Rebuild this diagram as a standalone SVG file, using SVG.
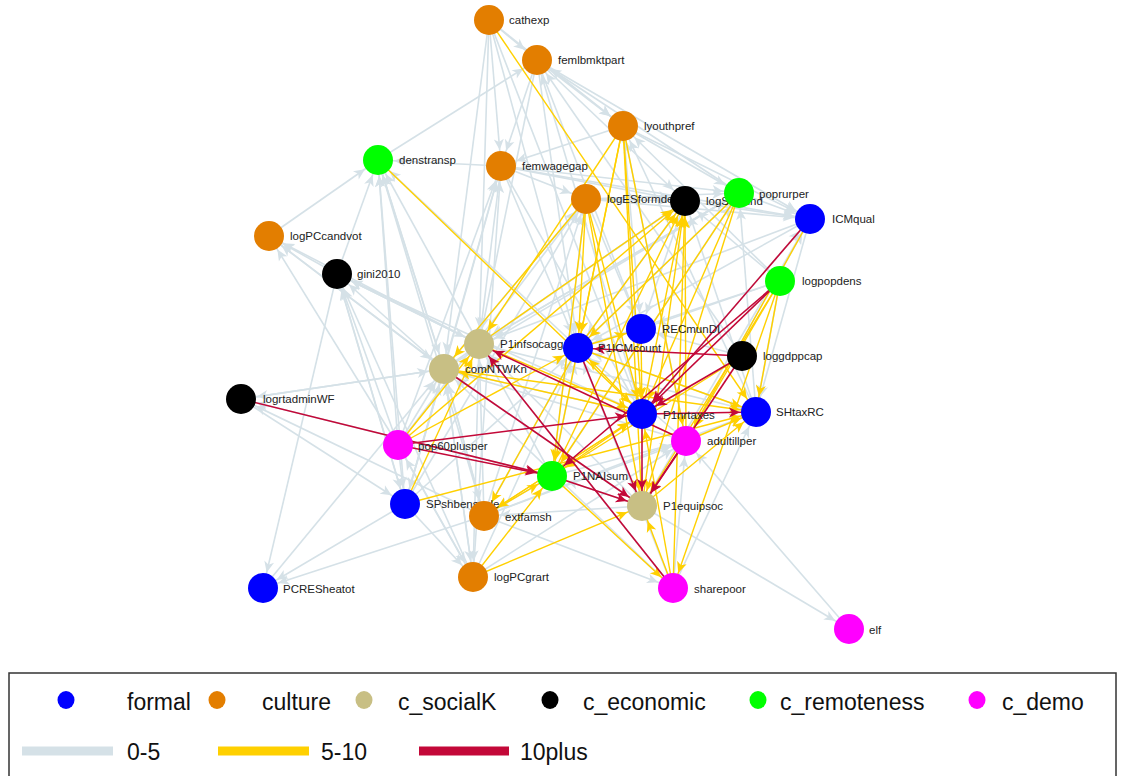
<svg xmlns="http://www.w3.org/2000/svg" width="1121" height="776" viewBox="0 0 1121 776">
<style>
.g{stroke:#d5e1e7;stroke-width:1.6;fill:none;marker-end:url(#ag)}
.y{stroke:#ffd000;stroke-width:1.4;fill:none;marker-end:url(#ay)}
.r{stroke:#c30838;stroke-width:1.6;fill:none;marker-end:url(#ar)}
.lb{font-family:"Liberation Sans",Arial,sans-serif;font-size:11.5px;fill:#222}
.lg{font-family:"Liberation Sans",Arial,sans-serif;font-size:23px;fill:#111}
.fo{fill:#0000ff}.cu{fill:#e37e00}.so{fill:#c8bf84}.ec{fill:#000000}.re{fill:#00ff00}.de{fill:#ff00ff}
</style>
<defs>
<marker id="ag" markerUnits="userSpaceOnUse" viewBox="-40 -10 50 20" markerWidth="50" markerHeight="20" refX="0" refY="0" orient="auto"><path d="M-16,0 L-27,-5 L-24,0 L-27,5 Z" fill="#d5e1e7"/></marker>
<marker id="ay" markerUnits="userSpaceOnUse" viewBox="-40 -10 50 20" markerWidth="50" markerHeight="20" refX="0" refY="0" orient="auto"><path d="M-16,0 L-27,-5 L-24,0 L-27,5 Z" fill="#ffd000"/></marker>
<marker id="ar" markerUnits="userSpaceOnUse" viewBox="-40 -10 50 20" markerWidth="50" markerHeight="20" refX="0" refY="0" orient="auto"><path d="M-16,0 L-27,-5 L-24,0 L-27,5 Z" fill="#c30838"/></marker>
</defs>
<rect width="1121" height="776" fill="#ffffff"/>
<g id="edges">
<g id="edges-0-5">
<line class="g" x1="489" y1="20" x2="537" y2="60"/>
<line class="g" x1="489" y1="20" x2="501" y2="166"/>
<line class="g" x1="489" y1="20" x2="479" y2="344"/>
<line class="g" x1="489" y1="20" x2="444" y2="369"/>
<line class="g" x1="489" y1="20" x2="578" y2="348"/>
<line class="g" x1="489" y1="20" x2="623" y2="126"/>
<line class="g" x1="537" y1="60" x2="623" y2="126"/>
<line class="g" x1="537" y1="60" x2="501" y2="166"/>
<line class="g" x1="537" y1="60" x2="479" y2="344"/>
<line class="g" x1="537" y1="60" x2="578" y2="348"/>
<line class="g" x1="537" y1="60" x2="641" y2="329"/>
<line class="g" x1="537" y1="60" x2="685" y2="201"/>
<line class="g" x1="537" y1="60" x2="810" y2="219"/>
<line class="g" x1="378" y1="160" x2="537" y2="60"/>
<line class="g" x1="642" y1="414" x2="537" y2="60"/>
<line class="g" x1="742" y1="356" x2="537" y2="60"/>
<line class="g" x1="739" y1="193" x2="537" y2="60"/>
<line class="g" x1="623" y1="126" x2="501" y2="166"/>
<line class="g" x1="623" y1="126" x2="739" y2="193"/>
<line class="g" x1="623" y1="126" x2="810" y2="219"/>
<line class="g" x1="756" y1="412" x2="623" y2="126"/>
<line class="g" x1="686" y1="441" x2="623" y2="126"/>
<line class="g" x1="780" y1="281" x2="623" y2="126"/>
<line class="g" x1="501" y1="166" x2="378" y2="160"/>
<line class="g" x1="501" y1="166" x2="685" y2="201"/>
<line class="g" x1="501" y1="166" x2="739" y2="193"/>
<line class="g" x1="501" y1="166" x2="810" y2="219"/>
<line class="g" x1="501" y1="166" x2="586" y2="199"/>
<line class="g" x1="444" y1="369" x2="501" y2="166"/>
<line class="g" x1="405" y1="504" x2="501" y2="166"/>
<line class="g" x1="398" y1="445" x2="501" y2="166"/>
<line class="g" x1="473" y1="577" x2="501" y2="166"/>
<line class="g" x1="444" y1="369" x2="378" y2="160"/>
<line class="g" x1="479" y1="344" x2="378" y2="160"/>
<line class="g" x1="398" y1="445" x2="378" y2="160"/>
<line class="g" x1="405" y1="504" x2="378" y2="160"/>
<line class="g" x1="578" y1="348" x2="378" y2="160"/>
<line class="g" x1="484" y1="516" x2="378" y2="160"/>
<line class="g" x1="586" y1="199" x2="685" y2="201"/>
<line class="g" x1="586" y1="199" x2="739" y2="193"/>
<line class="g" x1="586" y1="199" x2="810" y2="219"/>
<line class="g" x1="685" y1="201" x2="810" y2="219"/>
<line class="g" x1="739" y1="193" x2="810" y2="219"/>
<line class="g" x1="444" y1="369" x2="269" y2="236"/>
<line class="g" x1="479" y1="344" x2="269" y2="236"/>
<line class="g" x1="398" y1="445" x2="269" y2="236"/>
<line class="g" x1="337" y1="274" x2="269" y2="236"/>
<line class="g" x1="444" y1="369" x2="337" y2="274"/>
<line class="g" x1="398" y1="445" x2="337" y2="274"/>
<line class="g" x1="405" y1="504" x2="337" y2="274"/>
<line class="g" x1="473" y1="577" x2="337" y2="274"/>
<line class="g" x1="642" y1="414" x2="337" y2="274"/>
<line class="g" x1="479" y1="344" x2="337" y2="274"/>
<line class="g" x1="337" y1="274" x2="263" y2="588"/>
<line class="g" x1="405" y1="504" x2="263" y2="588"/>
<line class="g" x1="484" y1="516" x2="263" y2="588"/>
<line class="g" x1="444" y1="369" x2="241" y2="399"/>
<line class="g" x1="552" y1="476" x2="241" y2="399"/>
<line class="g" x1="484" y1="516" x2="241" y2="399"/>
<line class="g" x1="405" y1="504" x2="444" y2="369"/>
<line class="g" x1="473" y1="577" x2="444" y2="369"/>
<line class="g" x1="484" y1="516" x2="444" y2="369"/>
<line class="g" x1="398" y1="445" x2="444" y2="369"/>
<line class="g" x1="241" y1="399" x2="444" y2="369"/>
<line class="g" x1="263" y1="588" x2="444" y2="369"/>
<line class="g" x1="673" y1="588" x2="444" y2="369"/>
<line class="g" x1="642" y1="506" x2="444" y2="369"/>
<line class="g" x1="686" y1="441" x2="444" y2="369"/>
<line class="g" x1="378" y1="160" x2="444" y2="369"/>
<line class="g" x1="269" y1="236" x2="444" y2="369"/>
<line class="g" x1="337" y1="274" x2="479" y2="344"/>
<line class="g" x1="501" y1="166" x2="479" y2="344"/>
<line class="g" x1="739" y1="193" x2="479" y2="344"/>
<line class="g" x1="810" y1="219" x2="479" y2="344"/>
<line class="g" x1="685" y1="201" x2="479" y2="344"/>
<line class="g" x1="552" y1="476" x2="479" y2="344"/>
<line class="g" x1="484" y1="516" x2="479" y2="344"/>
<line class="g" x1="501" y1="166" x2="578" y2="348"/>
<line class="g" x1="685" y1="201" x2="578" y2="348"/>
<line class="g" x1="739" y1="193" x2="578" y2="348"/>
<line class="g" x1="810" y1="219" x2="578" y2="348"/>
<line class="g" x1="780" y1="281" x2="578" y2="348"/>
<line class="g" x1="484" y1="516" x2="578" y2="348"/>
<line class="g" x1="473" y1="577" x2="578" y2="348"/>
<line class="g" x1="405" y1="504" x2="578" y2="348"/>
<line class="g" x1="586" y1="199" x2="641" y2="329"/>
<line class="g" x1="623" y1="126" x2="641" y2="329"/>
<line class="g" x1="685" y1="201" x2="641" y2="329"/>
<line class="g" x1="780" y1="281" x2="641" y2="329"/>
<line class="g" x1="489" y1="20" x2="642" y2="414"/>
<line class="g" x1="501" y1="166" x2="642" y2="414"/>
<line class="g" x1="444" y1="369" x2="642" y2="414"/>
<line class="g" x1="849" y1="629" x2="686" y2="441"/>
<line class="g" x1="642" y1="506" x2="849" y2="629"/>
<line class="g" x1="673" y1="588" x2="686" y2="441"/>
<line class="g" x1="444" y1="369" x2="473" y2="577"/>
<line class="g" x1="398" y1="445" x2="473" y2="577"/>
<line class="g" x1="479" y1="344" x2="473" y2="577"/>
<line class="g" x1="405" y1="504" x2="473" y2="577"/>
<line class="g" x1="444" y1="369" x2="484" y2="516"/>
<line class="g" x1="552" y1="476" x2="484" y2="516"/>
<line class="g" x1="337" y1="274" x2="405" y2="504"/>
<line class="g" x1="241" y1="399" x2="405" y2="504"/>
<line class="g" x1="444" y1="369" x2="405" y2="504"/>
<line class="g" x1="398" y1="445" x2="405" y2="504"/>
<line class="g" x1="473" y1="577" x2="398" y2="445"/>
<line class="g" x1="780" y1="281" x2="756" y2="412"/>
<line class="g" x1="810" y1="219" x2="756" y2="412"/>
<line class="g" x1="780" y1="281" x2="685" y2="201"/>
<line class="g" x1="756" y1="412" x2="739" y2="193"/>
<line class="g" x1="686" y1="441" x2="810" y2="219"/>
<line class="g" x1="642" y1="506" x2="810" y2="219"/>
<line class="g" x1="642" y1="414" x2="810" y2="219"/>
<line class="g" x1="552" y1="476" x2="739" y2="193"/>
<line class="g" x1="673" y1="588" x2="479" y2="344"/>
<line class="g" x1="642" y1="506" x2="479" y2="344"/>
<line class="g" x1="552" y1="476" x2="578" y2="348"/>
<line class="g" x1="642" y1="506" x2="578" y2="348"/>
<line class="g" x1="673" y1="588" x2="578" y2="348"/>
<line class="g" x1="756" y1="412" x2="578" y2="348"/>
<line class="g" x1="686" y1="441" x2="578" y2="348"/>
<line class="g" x1="337" y1="274" x2="378" y2="160"/>
<line class="g" x1="269" y1="236" x2="378" y2="160"/>
<line class="g" x1="398" y1="445" x2="586" y2="199"/>
<line class="g" x1="405" y1="504" x2="586" y2="199"/>
<line class="g" x1="444" y1="369" x2="586" y2="199"/>
<line class="g" x1="484" y1="516" x2="586" y2="199"/>
<line class="g" x1="552" y1="476" x2="586" y2="199"/>
<line class="g" x1="444" y1="369" x2="685" y2="201"/>
<line class="g" x1="479" y1="344" x2="739" y2="193"/>
<line class="g" x1="444" y1="369" x2="739" y2="193"/>
<line class="g" x1="479" y1="344" x2="756" y2="412"/>
<line class="g" x1="484" y1="516" x2="756" y2="412"/>
<line class="g" x1="673" y1="588" x2="756" y2="412"/>
<line class="g" x1="552" y1="476" x2="686" y2="441"/>
<line class="g" x1="484" y1="516" x2="686" y2="441"/>
<line class="g" x1="473" y1="577" x2="686" y2="441"/>
<line class="g" x1="642" y1="506" x2="484" y2="516"/>
<line class="g" x1="642" y1="506" x2="552" y2="476"/>
<line class="g" x1="484" y1="516" x2="673" y2="588"/>
<line class="g" x1="742" y1="356" x2="641" y2="329"/>
<line class="g" x1="756" y1="412" x2="685" y2="201"/>
</g>
<g id="edges-5-10">
<line class="y" x1="489" y1="20" x2="756" y2="412"/>
<line class="y" x1="378" y1="160" x2="642" y2="414"/>
<line class="y" x1="623" y1="126" x2="479" y2="344"/>
<line class="y" x1="623" y1="126" x2="642" y2="414"/>
<line class="y" x1="623" y1="126" x2="642" y2="506"/>
<line class="y" x1="623" y1="126" x2="552" y2="476"/>
<line class="y" x1="623" y1="126" x2="686" y2="441"/>
<line class="y" x1="623" y1="126" x2="578" y2="348"/>
<line class="y" x1="586" y1="199" x2="444" y2="369"/>
<line class="y" x1="586" y1="199" x2="578" y2="348"/>
<line class="y" x1="586" y1="199" x2="642" y2="414"/>
<line class="y" x1="586" y1="199" x2="552" y2="476"/>
<line class="y" x1="586" y1="199" x2="642" y2="506"/>
<line class="y" x1="578" y1="348" x2="685" y2="201"/>
<line class="y" x1="479" y1="344" x2="685" y2="201"/>
<line class="y" x1="642" y1="414" x2="685" y2="201"/>
<line class="y" x1="642" y1="506" x2="685" y2="201"/>
<line class="y" x1="552" y1="476" x2="685" y2="201"/>
<line class="y" x1="686" y1="441" x2="685" y2="201"/>
<line class="y" x1="673" y1="588" x2="685" y2="201"/>
<line class="y" x1="739" y1="193" x2="642" y2="414"/>
<line class="y" x1="739" y1="193" x2="552" y2="476"/>
<line class="y" x1="739" y1="193" x2="642" y2="506"/>
<line class="y" x1="739" y1="193" x2="578" y2="348"/>
<line class="y" x1="780" y1="281" x2="756" y2="412"/>
<line class="y" x1="780" y1="281" x2="642" y2="506"/>
<line class="y" x1="780" y1="281" x2="673" y2="588"/>
<line class="y" x1="780" y1="281" x2="686" y2="441"/>
<line class="y" x1="810" y1="219" x2="686" y2="441"/>
<line class="y" x1="578" y1="348" x2="641" y2="329"/>
<line class="y" x1="642" y1="414" x2="578" y2="348"/>
<line class="y" x1="479" y1="344" x2="642" y2="414"/>
<line class="y" x1="444" y1="369" x2="756" y2="412"/>
<line class="y" x1="578" y1="348" x2="756" y2="412"/>
<line class="y" x1="398" y1="445" x2="479" y2="344"/>
<line class="y" x1="405" y1="504" x2="479" y2="344"/>
<line class="y" x1="398" y1="445" x2="685" y2="201"/>
<line class="y" x1="405" y1="504" x2="756" y2="412"/>
<line class="y" x1="484" y1="516" x2="552" y2="476"/>
<line class="y" x1="473" y1="577" x2="552" y2="476"/>
<line class="y" x1="473" y1="577" x2="642" y2="506"/>
<line class="y" x1="578" y1="348" x2="484" y2="516"/>
<line class="y" x1="642" y1="414" x2="484" y2="516"/>
<line class="y" x1="673" y1="588" x2="642" y2="506"/>
<line class="y" x1="673" y1="588" x2="642" y2="414"/>
<line class="y" x1="552" y1="476" x2="673" y2="588"/>
<line class="y" x1="742" y1="356" x2="552" y2="476"/>
<line class="y" x1="686" y1="441" x2="756" y2="412"/>
<line class="y" x1="642" y1="506" x2="756" y2="412"/>
<line class="y" x1="484" y1="516" x2="642" y2="414"/>
<line class="y" x1="552" y1="476" x2="642" y2="414"/>
<line class="y" x1="398" y1="445" x2="578" y2="348"/>
<line class="y" x1="642" y1="414" x2="444" y2="369"/>
<line class="y" x1="641" y1="329" x2="642" y2="414"/>
</g>
<g id="edges-10plus">
<line class="r" x1="241" y1="399" x2="552" y2="476"/>
<line class="r" x1="398" y1="445" x2="552" y2="476"/>
<line class="r" x1="398" y1="445" x2="642" y2="414"/>
<line class="r" x1="642" y1="414" x2="756" y2="412"/>
<line class="r" x1="444" y1="369" x2="642" y2="506"/>
<line class="r" x1="686" y1="441" x2="479" y2="344"/>
<line class="r" x1="673" y1="588" x2="479" y2="344"/>
<line class="r" x1="742" y1="356" x2="578" y2="348"/>
<line class="r" x1="742" y1="356" x2="642" y2="414"/>
<line class="r" x1="742" y1="356" x2="642" y2="506"/>
<line class="r" x1="810" y1="219" x2="642" y2="414"/>
<line class="r" x1="780" y1="281" x2="642" y2="414"/>
<line class="r" x1="780" y1="281" x2="552" y2="476"/>
<line class="r" x1="552" y1="476" x2="642" y2="506"/>
<line class="r" x1="578" y1="348" x2="642" y2="506"/>
<line class="r" x1="642" y1="414" x2="642" y2="506"/>
<line class="r" x1="686" y1="441" x2="642" y2="506"/>
</g>
</g>
<g id="nodes">
<g id="cathexp"><circle class="cu" cx="489" cy="20" r="15"/><text class="lb" x="509" y="24">cathexp</text></g>
<g id="femlbmktpart"><circle class="cu" cx="537" cy="60" r="15"/><text class="lb" x="558" y="64">femlbmktpart</text></g>
<g id="lyouthpref"><circle class="cu" cx="623" cy="126" r="15"/><text class="lb" x="644" y="130">lyouthpref</text></g>
<g id="denstransp"><circle class="re" cx="378" cy="160" r="15"/><text class="lb" x="399" y="164">denstransp</text></g>
<g id="femwagegap"><circle class="cu" cx="501" cy="166" r="15"/><text class="lb" x="522" y="170">femwagegap</text></g>
<g id="logESformdev"><circle class="cu" cx="586" cy="199" r="15"/><text class="lb" x="607" y="203">logESformdev</text></g>
<g id="logSubsind"><circle class="ec" cx="685" cy="201" r="15"/><text class="lb" x="706" y="205">logSubsind</text></g>
<g id="poprurper"><circle class="re" cx="739" cy="193" r="15"/><text class="lb" x="759" y="198">poprurper</text></g>
<g id="ICMqual"><circle class="fo" cx="810" cy="219" r="15"/><text class="lb" x="832" y="223">ICMqual</text></g>
<g id="logPCcandvot"><circle class="cu" cx="269" cy="236" r="15"/><text class="lb" x="290" y="240">logPCcandvot</text></g>
<g id="gini2010"><circle class="ec" cx="337" cy="274" r="15"/><text class="lb" x="357" y="278">gini2010</text></g>
<g id="logpopdens"><circle class="re" cx="780" cy="281" r="15"/><text class="lb" x="802" y="285">logpopdens</text></g>
<g id="RECmunDI"><circle class="fo" cx="641" cy="329" r="15"/><text class="lb" x="662" y="333">RECmunDI</text></g>
<g id="P1infsocagg"><circle class="so" cx="479" cy="344" r="15"/><text class="lb" x="500" y="348">P1infsocagg</text></g>
<g id="P1ICMcount"><circle class="fo" cx="578" cy="348" r="15"/><text class="lb" x="598" y="352">P1ICMcount</text></g>
<g id="loggdppcap"><circle class="ec" cx="742" cy="356" r="15"/><text class="lb" x="763" y="360">loggdppcap</text></g>
<g id="comNTWKn"><circle class="so" cx="444" cy="369" r="15"/><text class="lb" x="465" y="373">comNTWKn</text></g>
<g id="logrtadminWF"><circle class="ec" cx="241" cy="399" r="15"/><text class="lb" x="263" y="403">logrtadminWF</text></g>
<g id="P1nrtaxes"><circle class="fo" cx="642" cy="414" r="15"/><text class="lb" x="663" y="419">P1nrtaxes</text></g>
<g id="SHtaxRC"><circle class="fo" cx="756" cy="412" r="15"/><text class="lb" x="776" y="416">SHtaxRC</text></g>
<g id="adultillper"><circle class="de" cx="686" cy="441" r="15"/><text class="lb" x="707" y="445">adultillper</text></g>
<g id="pop60plusper"><circle class="de" cx="398" cy="445" r="15"/><text class="lb" x="418" y="450">pop60plusper</text></g>
<g id="P1NAIsum"><circle class="re" cx="552" cy="476" r="15"/><text class="lb" x="573" y="480">P1NAIsum</text></g>
<g id="SPshbensocle"><circle class="fo" cx="405" cy="504" r="15"/><text class="lb" x="426" y="508">SPshbensocle</text></g>
<g id="extfamsh"><circle class="cu" cx="484" cy="516" r="15"/><text class="lb" x="505" y="521">extfamsh</text></g>
<g id="P1equipsoc"><circle class="so" cx="642" cy="506" r="15"/><text class="lb" x="663" y="510">P1equipsoc</text></g>
<g id="PCRESheatot"><circle class="fo" cx="263" cy="588" r="15"/><text class="lb" x="283" y="593">PCRESheatot</text></g>
<g id="logPCgrart"><circle class="cu" cx="473" cy="577" r="15"/><text class="lb" x="494" y="581">logPCgrart</text></g>
<g id="sharepoor"><circle class="de" cx="673" cy="588" r="15"/><text class="lb" x="694" y="593">sharepoor</text></g>
<g id="elf"><circle class="de" cx="849" cy="629" r="15"/><text class="lb" x="869" y="634">elf</text></g>
</g>
<g id="legend">
<rect x="9" y="673" width="1107" height="120" fill="#ffffff" stroke="#333333" stroke-width="1.5"/>
<ellipse class="fo" cx="66" cy="700" rx="8.5" ry="9"/><text class="lg" x="127" y="710">formal</text>
<ellipse class="cu" cx="217" cy="700" rx="8.5" ry="9"/><text class="lg" x="262" y="710">culture</text>
<ellipse class="so" cx="364" cy="700" rx="8.5" ry="9"/><text class="lg" x="398" y="710">c_socialK</text>
<ellipse class="ec" cx="550" cy="700" rx="8.5" ry="9"/><text class="lg" x="583" y="710">c_economic</text>
<ellipse class="re" cx="758" cy="700" rx="8.5" ry="9"/><text class="lg" x="780" y="710">c_remoteness</text>
<ellipse class="de" cx="977" cy="700" rx="8.5" ry="9"/><text class="lg" x="1002" y="710">c_demo</text>
<line x1="22" y1="751" x2="113" y2="751" stroke="#d5e1e7" stroke-width="9"/><text class="lg" x="127" y="760">0-5</text>
<line x1="218" y1="751" x2="309" y2="751" stroke="#ffd000" stroke-width="9"/><text class="lg" x="321" y="760">5-10</text>
<line x1="419" y1="751" x2="509" y2="751" stroke="#c30838" stroke-width="9"/><text class="lg" x="520" y="760">10plus</text>
</g>
</svg>
